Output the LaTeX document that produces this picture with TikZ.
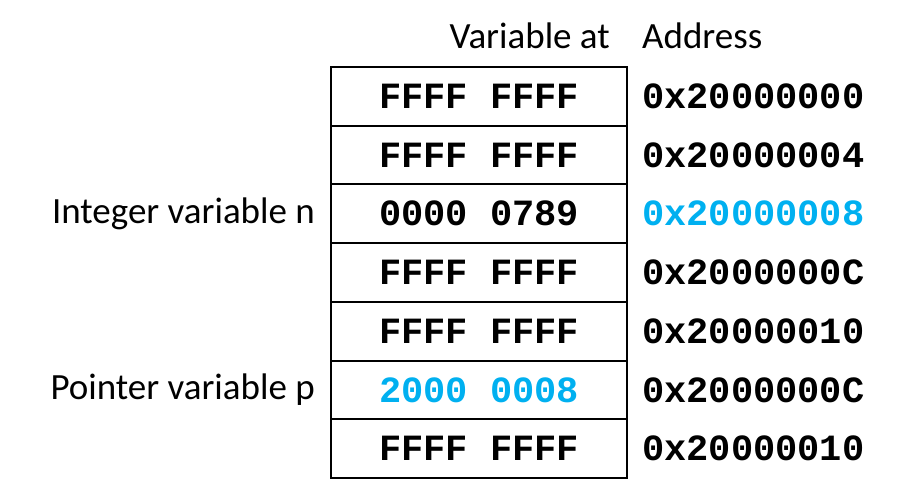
\documentclass[tikz,border=0pt]{standalone}
\usepackage{fontspec}
\setmainfont{Carlito}
\setmonofont{Liberation Mono}
\usetikzlibrary{positioning}
\definecolor{ptrblue}{RGB}{0,176,240}

\begin{document}
\begin{tikzpicture}[x=1pt,y=1pt]
    \tikzset{cell/.style={draw,line width=2pt,outer sep=0pt,minimum width=296pt,minimum height=58.7pt,inner sep=0pt,font=\fontsize{37}{37}\selectfont\ttfamily\bfseries}}
    \tikzset{addr/.style={anchor=west,inner sep=0pt,font=\fontsize{37}{37}\selectfont\ttfamily\bfseries}}
    \tikzset{vlabel/.style={anchor=east,inner sep=0pt,font=\fontsize{37}{37}\selectfont}}
    \useasboundingbox (0,0) rectangle (921,-497);

    % Headers
    \node[vlabel] (hvar) at (610,-36) {Variable at};
    \node[vlabel,anchor=west] (haddr) at (642,-36) {Address};

    % Memory cells
    \node[cell] (c1) at (479,-96.4) {FFFF FFFF};
    \node[cell,below=0pt of c1] (c2) {FFFF FFFF};
    \node[cell,below=0pt of c2] (c3) {0000 0789};
    \node[cell,below=0pt of c3] (c4) {FFFF FFFF};
    \node[cell,below=0pt of c4] (c5) {FFFF FFFF};
    \node[cell,below=0pt of c5,text=ptrblue] (c6) {2000 0008};
    \node[cell,below=0pt of c6] (c7) {FFFF FFFF};

    % Addresses
    \node[addr] (a1) at ([xshift=15pt]c1.east) {0x20000000};
    \node[addr] (a2) at ([xshift=15pt]c2.east) {0x20000004};
    \node[addr,text=ptrblue] (a3) at ([xshift=15pt]c3.east) {0x20000008};
    \node[addr] (a4) at ([xshift=15pt]c4.east) {0x2000000C};
    \node[addr] (a5) at ([xshift=15pt]c5.east) {0x20000010};
    \node[addr] (a6) at ([xshift=15pt]c6.east) {0x2000000C};
    \node[addr] (a7) at ([xshift=15pt]c7.east) {0x20000010};

    % Variables
    \node[vlabel] (vn) at ([xshift=-16pt]c3.west) {Integer variable n};
    \node[vlabel] (vp) at ([xshift=-16pt]c6.west) {Pointer variable p};
\end{tikzpicture}
\end{document}
